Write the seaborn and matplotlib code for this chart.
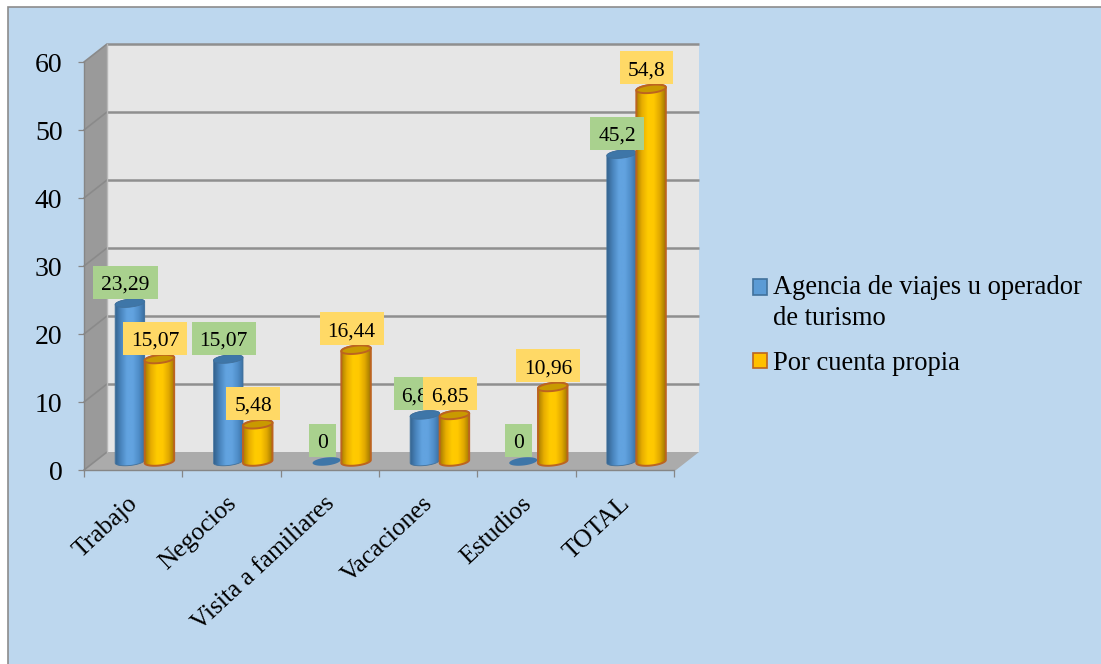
import numpy as np
import pandas as pd
import matplotlib
matplotlib.use("Agg")
import matplotlib.pyplot as plt
import seaborn as sns
from matplotlib.colors import LinearSegmentedColormap
from matplotlib.patches import Polygon, Rectangle, Patch
from matplotlib.transforms import Affine2D, IdentityTransform

categories = ["Trabajo", "Negocios", "Visita a familiares", "Vacaciones", "Estudios", "TOTAL"]
agencia = [23.29, 15.07, 0, 6.85, 0, 45.2]
propia = [15.07, 5.48, 16.44, 6.85, 10.96, 54.8]
series_names = ["Agencia de viajes u operador\nde turismo", "Por cuenta propia"]
y_ticks = [0, 10, 20, 30, 40, 50, 60]

sns.set_theme(style="white")
plt.rcParams["font.family"] = ["Liberation Serif", "DejaVu Serif"]

W, H = 1101, 664
fig = plt.figure(figsize=(W / 100, H / 100), dpi=100, facecolor="white")

# backdrop in pixel coordinates
bg = fig.add_axes([0, 0, 1, 1], zorder=0)
bg.set_xlim(0, W)
bg.set_ylim(H, 0)
bg.axis("off")
bg.add_patch(Rectangle((8, 7), W + 10, H + 10, fc="#BDD7EE", ec="#8C8C8C", lw=1.2))
AX_L, AX_R, AX_T, AX_B = 84, 674, 62, 470
DX, DY = 23, 18
bg.add_patch(Polygon([(AX_L + DX, AX_T - DY), (AX_R + DX + 2, AX_T - DY),
                      (AX_R + DX + 2, AX_B - DY), (AX_L + DX, AX_B - DY)], fc="#E6E6E6", ec="none"))
bg.add_patch(Polygon([(AX_L, AX_T), (AX_L + DX, AX_T - DY), (AX_L + DX, AX_B - DY), (AX_L, AX_B)],
                     fc="#9A9A9A", ec="none"))
bg.add_patch(Polygon([(AX_L, AX_B), (AX_L + DX, AX_B - DY), (AX_R + DX + 2, AX_B - DY), (AX_R + 2, AX_B)],
                     fc="#ABABAB", ec="none"))
step = (AX_B - AX_T) / 6
for i in range(7):
    yy = AX_B - i * step
    if i > 0:
        bg.plot([AX_L + DX, AX_R + DX + 2], [yy - DY, yy - DY], color="#8F8F8F", lw=1.8, solid_capstyle="butt")
    bg.plot([AX_L, AX_L + DX], [yy, yy - DY], color="#8A8A8A", lw=1.2)
bg.plot([AX_L + DX, AX_L + DX], [AX_T - DY, AX_B - DY], color="#B8B8B8", lw=1)

# main axes: the front plane of the 3D box
ax = fig.add_axes([AX_L / W, (H - AX_B) / H, (AX_R - AX_L) / W, (AX_B - AX_T) / H], zorder=1)
ax.patch.set_alpha(0)

df = pd.DataFrame({
    "cat": categories * 2,
    "val": agencia + propia,
    "serie": [series_names[0]] * len(categories) + [series_names[1]] * len(categories),
})
BLUE, ORANGE = "#5B9BD5", "#FFC000"
sns.barplot(data=df, x="cat", y="val", hue="serie", order=categories, hue_order=series_names,
            palette=[BLUE, ORANGE], width=0.6, gap=0, dodge=True, legend=False, ax=ax, saturation=1)
ax.set_xlim(-0.5, 5.5)
ax.set_ylim(0, 60)
ax.set_xlabel("")
ax.set_ylabel("")

T = ax.transData + Affine2D().translate(11.5, 8.5)
px_x = (AX_R - AX_L) / 6
px_y = (AX_B - AX_T) / 60

cmap_blue = LinearSegmentedColormap.from_list("b", ["#34638F", "#4A86BE", "#62A3E0", "#62A3E0", "#4F8DC8", "#3A6C9C"])
cmap_or = LinearSegmentedColormap.from_list("o", ["#A87C00", "#E8AE00", "#FFCB00", "#FFC800", "#E0A800", "#9C7500"])
styles = [
    dict(cmap=cmap_blue, top="#3E76A8", edge="#41719C", lw=0.6, box="#A9D18E"),
    dict(cmap=cmap_or, top="#C99A00", edge="#BC6420", lw=1.4, box="#FFD966"),
]

t = np.linspace(0, 2 * np.pi, 80)
hb = 4.0 / px_y     # half height of the ellipse
skew = 1.5 / px_y   # tilt of the ellipse


def ell(cx, cy, a, tt):
    return np.column_stack([cx + a * np.cos(tt), cy + hb * np.sin(tt) + skew * np.cos(tt)])


fig.canvas.draw()
renderer = fig.canvas.get_renderer()

for k, (cont, st) in enumerate(zip(ax.containers, styles)):
    for bar in cont:
        x0, w, v = bar.get_x(), bar.get_width(), bar.get_height()
        cx, a = x0 + w / 2, w / 2
        bar.set_transform(T)
        z = 3 + k
        bar.set_zorder(z)
        if v > 0:
            lower = ell(cx, 0, a, np.linspace(np.pi, 2 * np.pi, 40))
            upper = ell(cx, v, a, np.linspace(0, np.pi, 40))
            body = Polygon(np.vstack([lower, upper]), closed=True, fc="none", ec=st["edge"], lw=st["lw"],
                           transform=T, zorder=z + 0.2)
            ax.add_patch(body)
            im = ax.imshow(np.linspace(0, 1, 128)[None, :], cmap=st["cmap"], aspect="auto",
                           extent=(x0, x0 + w, -3, v + 3), zorder=z + 0.1, transform=T)
            im.set_clip_path(body)
            bar.set_clip_path(body)
            ax.add_patch(Polygon(ell(cx, v, a, t), closed=True, fc=st["top"], ec=st["edge"], lw=st["lw"],
                                 transform=T, zorder=z + 0.3))
        else:
            bar.set_visible(False)
            ax.add_patch(Polygon(ell(cx, 0, a * 0.95, t), closed=True, fc=st["top"], ec="none",
                                 transform=T, zorder=z + 0.3))

# data labels
for k, (cont, st) in enumerate(zip(ax.containers, styles)):
    for bar in cont:
        x0, w, v = bar.get_x(), bar.get_width(), bar.get_height()
        px, py = T.transform((x0 + w / 2, v))
        bx, by = px - 4.5, py + 21
        txt = ax.text(bx, by - 7.5, f"{v:g}".replace(".", ","), transform=IdentityTransform(),
                      ha="center", va="baseline", fontsize=15.5, color="black", zorder=20 + 2 * k + 1,
                      clip_on=False)
        tw = txt.get_window_extent(renderer).width
        bw = tw + 16
        ax.add_patch(Rectangle((bx - bw / 2, by - 16.5), bw, 33, fc=st["box"], ec="none",
                               transform=IdentityTransform(), zorder=20 + 2 * k, clip_on=False))

ax.set_xlim(-0.5, 5.5)
ax.set_ylim(0, 60)

# axes and ticks
for s in ["top", "right"]:
    ax.spines[s].set_visible(False)
for s in ["left", "bottom"]:
    ax.spines[s].set_color("#868686")
    ax.spines[s].set_linewidth(1.0)
ax.set_yticks(y_ticks)
ax.tick_params(axis="y", which="major", length=4.5, width=0.9, color="#868686", pad=11, labelsize=20,
               left=True, labelcolor="black")
ax.set_xticks(range(len(categories)))
ax.set_xticklabels(categories, rotation=43, ha="right", rotation_mode="anchor", fontsize=18.4, color="black")
ax.tick_params(axis="x", which="major", length=0, pad=16)
ax.set_xticks(np.arange(-0.5, 6, 1), minor=True)
ax.tick_params(axis="x", which="minor", length=5, width=0.9, color="#868686", bottom=True)
for lab in ax.get_xticklabels():
    lab.set_transform(lab.get_transform() + Affine2D().translate(-6, 0))

# legend
handles = [Patch(fc=BLUE, ec="#41719C", lw=1.2), Patch(fc=ORANGE, ec="#BC6420", lw=1.2)]
leg = ax.legend(handles, series_names, loc="upper left", bbox_to_anchor=(753 / W, (H - 275) / H),
                bbox_transform=fig.transFigure, frameon=False, fontsize=19.1, handlelength=0.53,
                handleheight=0.53, handletextpad=0.22, labelspacing=0.76, borderpad=0, borderaxespad=0)
for lt in leg.get_texts():
    lt.set_linespacing(1.31)
    lt.set_color("black")
blue_handle = leg.legend_handles[0]
blue_handle.set_y(blue_handle.get_y() + 11.5)

fig.savefig("out.png", dpi=100, facecolor="white")
